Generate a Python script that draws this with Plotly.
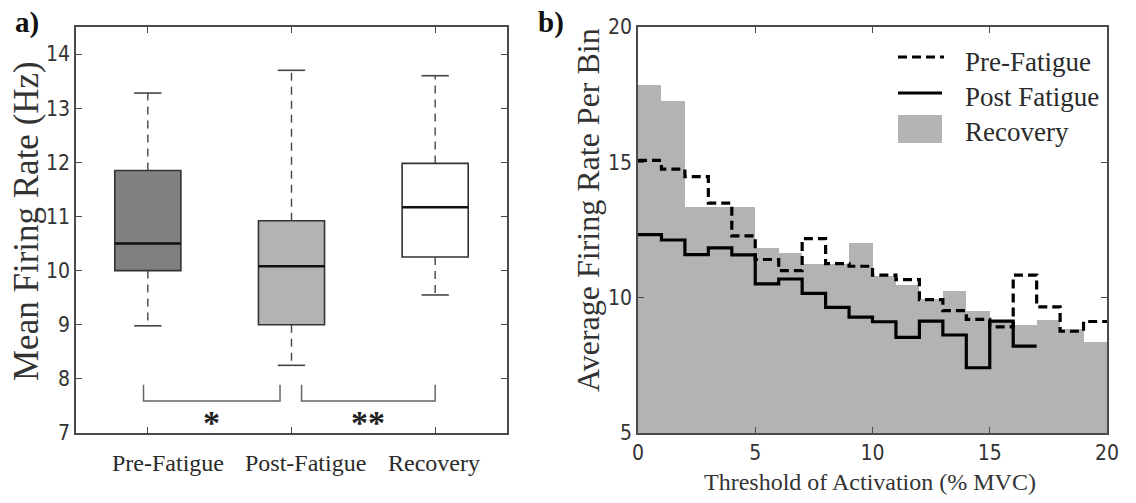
import plotly.graph_objects as go

W, H = 1136, 503

# ---------------- Panel a) data ----------------
groups = ["Pre-Fatigue", "Post-Fatigue", "Recovery"]
whisker_low = [8.98, 8.25, 9.55]
q1 = [10.0, 9.0, 10.25]
median = [10.5, 10.08, 11.17]
q3 = [11.85, 10.92, 11.98]
whisker_high = [13.28, 13.7, 13.6]
box_colors = ["#808080", "#b3b3b3", "#ffffff"]
sig_marks = ["*", "**"]

# ---------------- Panel b) data ----------------
bin_edges = list(range(21))  # threshold bins, % MVC
pre_fatigue = [15.07, 14.75, 14.47, 13.49, 12.28, 11.41, 11.0, 12.18, 11.26, 11.16,
               10.83, 10.67, 9.93, 9.52, 9.2, 8.92, 10.83, 9.66, 8.76, 9.12]
post_fatigue = [12.33, 12.13, 11.59, 11.84, 11.58, 10.51, 10.69, 10.16, 9.64, 9.28,
                 9.11, 8.53, 9.13, 8.62, 7.41, 9.13, 8.21]
recovery = [17.84, 17.25, 13.34, 13.34, 13.34, 11.83, 11.65, 11.26, 11.26, 12.02,
            10.8, 10.46, 9.95, 10.25, 9.5, 9.1, 8.99, 9.17, 8.86, 8.37]
series_names = ["Pre-Fatigue", "Post Fatigue", "Recovery"]

SERIF = "Liberation Serif, Times New Roman, serif"
NARROW = "Liberation Sans Narrow, DejaVu Sans Condensed, Arial Narrow, sans-serif"
AX = "#4a4a4a"
TXT = "#2a2a2a"


def px(x):
    return x / W


def py(y):
    return 1 - y / H


fig = go.Figure()

# ---- Panel a: boxes ----
pos = [1, 2, 3]
box_w = 0.46
cap_hw = 0.095
for i, g in enumerate(groups):
    fig.add_trace(go.Box(
        x=[pos[i]], q1=[q1[i]], median=[median[i]], q3=[q3[i]],
        lowerfence=[q1[i]], upperfence=[q3[i]],
        width=box_w, whiskerwidth=0,
        fillcolor=box_colors[i], line=dict(color="#333333", width=1.6),
        xaxis="x", yaxis="y", showlegend=False, hoverinfo="skip", name=g,
    ))
    # dashed whiskers
    fig.add_trace(go.Scatter(
        x=[pos[i], pos[i], None, pos[i], pos[i]],
        y=[q3[i], whisker_high[i], None, q1[i], whisker_low[i]],
        mode="lines", line=dict(color="#444444", width=1.4, dash="8px,6px"),
        xaxis="x", yaxis="y", showlegend=False, hoverinfo="skip"))
    # caps
    fig.add_trace(go.Scatter(
        x=[pos[i] - cap_hw, pos[i] + cap_hw, None, pos[i] - cap_hw, pos[i] + cap_hw],
        y=[whisker_high[i], whisker_high[i], None, whisker_low[i], whisker_low[i]],
        mode="lines", line=dict(color="#444444", width=1.6),
        xaxis="x", yaxis="y", showlegend=False, hoverinfo="skip"))
    # median line (thicker, black)
    fig.add_trace(go.Scatter(
        x=[pos[i] - box_w / 2, pos[i] + box_w / 2], y=[median[i], median[i]],
        mode="lines", line=dict(color="#111111", width=2.6),
        xaxis="x", yaxis="y", showlegend=False, hoverinfo="skip"))

# ---- Panel b: histogram + step lines ----
centers = [bin_edges[k] + 0.5 for k in range(len(recovery))]
fig.add_trace(go.Bar(
    x=centers, y=recovery, width=1, marker=dict(color="#b3b3b3", line=dict(width=0)),
    xaxis="x2", yaxis="y2", showlegend=False, hoverinfo="skip", name=series_names[2]))


def step(vals):
    n = len(vals)
    return bin_edges[:n + 1], list(vals) + [vals[-1]]


sx, sy = step(post_fatigue)
fig.add_trace(go.Scatter(x=sx, y=sy, mode="lines", line=dict(color="black", width=3.2, shape="hv"),
                         xaxis="x2", yaxis="y2", showlegend=False, hoverinfo="skip",
                         name=series_names[1]))
sx, sy = step(pre_fatigue)
fig.add_trace(go.Scatter(x=sx, y=sy, mode="lines",
                         line=dict(color="black", width=3.2, shape="hv", dash="9px,5px"),
                         xaxis="x2", yaxis="y2", showlegend=False, hoverinfo="skip",
                         name=series_names[0]))

axis_common = dict(showline=True, linecolor=AX, linewidth=1.5, mirror="ticks", ticks="inside",
                   ticklen=6, tickwidth=1.3, tickcolor=AX, showgrid=False, zeroline=False,
                   automargin=False,
                   tickfont=dict(family=NARROW, size=21, color="#333333"))

fig.update_layout(
    template="none",
    width=W, height=H, margin=dict(l=0, r=0, t=0, b=0, pad=0, autoexpand=False),
    paper_bgcolor="white", plot_bgcolor="white", bargap=0, showlegend=False,
    xaxis=dict(domain=[px(76), px(507)], range=[0.5, 3.5], tickvals=pos,
               showticklabels=False, anchor="y", **axis_common),
    yaxis=dict(domain=[py(433), py(27)], range=[7, 14.5], tickvals=list(range(7, 15)),
               anchor="x", **axis_common),
    xaxis2=dict(domain=[px(638), px(1107)], range=[0, 20], tickvals=[0, 5, 10, 15, 20],
                anchor="y2", **axis_common),
    yaxis2=dict(domain=[py(433), py(27)], range=[5, 20], tickvals=[5, 10, 15, 20],
                anchor="x2", **axis_common),
)

shapes = []
annotations = []


def ann(x, y, text, size, xref="paper", yref="paper", angle=0, color="#333333",
        xanchor="center", family=SERIF):
    return dict(x=x, y=y, xref=xref, yref=yref, text=text, textangle=angle, showarrow=False,
                xanchor=xanchor, yanchor="middle", font=dict(family=family, size=size, color=color))


# significance brackets (panel a)
brackets = [(0.97, 1.92), (2.07, 3.0)]
for (a, b), mark in zip(brackets, sig_marks):
    shapes.append(dict(type="path", xref="x", yref="y",
                       path=f"M {a},7.89 L {a},7.59 L {b},7.59 L {b},7.89",
                       line=dict(color="#666666", width=1.5)))
    annotations.append(ann((a + b) / 2, 7.2, f"<b>{mark}</b>", 34, xref="x", yref="y",
                           color="#222222"))

# category labels (panel a)
label_shift = [0.14, 0.1, -0.01]
for i, g in enumerate(groups):
    annotations.append(ann(pos[i] + label_shift[i], py(463), g, 24, xref="x", color=TXT))

# axis titles and panel letters
annotations += [
    ann(px(27), py(221), "Mean Firing Rate (Hz)", 35, angle=-90),
    ann(px(588), py(210), "Average Firing Rate Per Bin", 32, angle=-90),
    ann(px(870), py(482), "Threshold of Activation (% MVC)", 24),
    ann(px(27), py(22), "<b>a)</b>", 29, color="#111111"),
    ann(px(551), py(22), "<b>b)</b>", 29, color="#111111"),
]

# manual legend (panel b)
leg_y = [57, 93, 129]
text_y = [62, 97, 132]
shapes.append(dict(type="line", xref="paper", yref="paper", x0=px(898), x1=px(944),
                   y0=py(leg_y[0]), y1=py(leg_y[0]), line=dict(color="black", width=3.2, dash="9px,5px")))
shapes.append(dict(type="line", xref="paper", yref="paper", x0=px(898), x1=px(942),
                   y0=py(leg_y[1]), y1=py(leg_y[1]), line=dict(color="black", width=3.2)))
shapes.append(dict(type="rect", xref="paper", yref="paper", x0=px(898), x1=px(942),
                   y0=py(143), y1=py(115), fillcolor="#b3b3b3", line=dict(width=0)))
for name, ty in zip(series_names, text_y):
    annotations.append(ann(px(963), py(ty), name, 27, xanchor="left", color=TXT))

fig.update_layout(shapes=shapes, annotations=annotations)
fig.write_html("out.html")
